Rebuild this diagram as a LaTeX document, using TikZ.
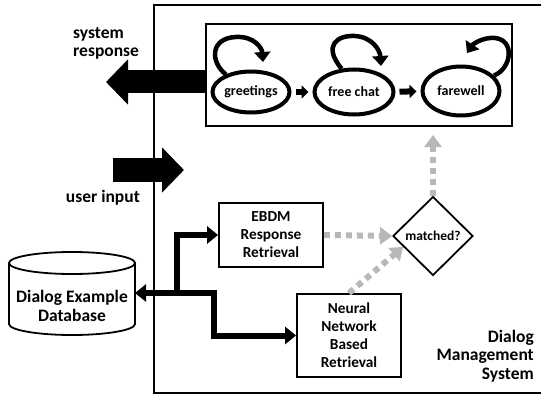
\documentclass[tikz,border=0pt]{standalone}
\usepackage{fontspec}
\setmainfont{Carlito}
\usetikzlibrary{arrows.meta,shapes.geometric}

\tikzset{
  stateell/.style={ellipse, draw, line width=4pt, inner sep=0pt, minimum width=77pt, minimum height=41pt, font=\fontsize{14}{16}\selectfont\bfseries},
  loopline/.style={line width=4.5pt, -{Triangle[width=16pt,length=10pt]}},
  nextarr/.style={line width=6pt, -{Triangle[width=13pt,length=7pt]}, shorten <=4pt, shorten >=4pt},
  bigarr/.style={line width=23pt, -{Triangle[width=44pt,length=22pt]}},
  boxnode/.style={draw, line width=1.8pt, align=center, inner sep=0pt, font=\fontsize{15.3}{18}\selectfont\bfseries},
  flow/.style={line width=6pt, -{Triangle[width=17pt,length=11pt]}},
  grayflow/.style={draw=black!28, line width=6pt, dash pattern=on 6pt off 5pt, -{Triangle[width=17pt,length=12pt]}},
  biglabel/.style={font=\fontsize{17.5}{18.5}\selectfont\bfseries, inner sep=0pt},
}

\begin{document}
\begin{tikzpicture}[x=1pt,y=-1pt]
%%%%% START %%%%%
\useasboundingbox (0,0) rectangle (541,396);

% dialog management system
\draw[line width=1.5pt] (154,5) rectangle (548,393);
\node[biglabel, align=right, anchor=north east] (dms) at (534,330) {Dialog\\Management\\System};

% states
\node[draw, line width=2pt, minimum width=306pt, minimum height=102pt, inner sep=0pt] (states) at (359,75) {};
\node[stateell] (greet) at (251,92) {greetings};
\node[stateell, minimum width=79pt, minimum height=45pt] (chat) at (354,92) {free chat};
\node[stateell, minimum width=77pt, minimum height=49pt] (bye) at (461,91) {farewell};
\draw[nextarr] (greet) -- (chat);
\draw[nextarr] (chat) -- (bye);

\coordinate (greetloop) at (263,62);
\coordinate (chatloop) at (381,66);
\coordinate (byeloop) at (467,53);
\draw[loopline] (greet.145) .. controls (210,62) and (210,38) .. (236,37) .. controls (254,36) and (262,48) .. (greetloop);
\draw[loopline] (chat.118) .. controls (322,45) and (338,35) .. (355,36) .. controls (372,37) and (380,50) .. (chatloop);
\draw[loopline] (bye.25) .. controls (512,68) and (515,40) .. (495,38) .. controls (483,37) and (473,44) .. (byeloop);

% in and out
\coordinate (resptip) at (106,82);
\draw[bigarr] (resptip -| states.west) -- (resptip);
\node[biglabel, align=left, anchor=north west] (resp) at (73,27) {system\\response};

\coordinate (inA) at (113,170);
\coordinate (inB) at (184,170);
\draw[bigarr, line width=24pt] (inA) -- (inB);
\node[biglabel, anchor=base east] (inlbl) at (140,202) {user input};

% database
\draw[line width=1.8pt] (9,263) -- (9,324) arc[start angle=180, end angle=0, x radius=63, y radius=11] -- (135,263);
\draw[line width=1.8pt] (72,263) ellipse [x radius=63, y radius=11];
\node[biglabel, align=center] (db) at (72,306) {Dialog Example\\Database};
\coordinate (dbport) at (135,293);

% retrieval
\node[boxnode, minimum width=104pt, minimum height=64pt] (ebdm) at (271,235) {EBDM\\Response\\Retrieval};
\node[boxnode, minimum width=104pt, minimum height=83pt] (neural) at (349,335.5) {Neural\\Network\\Based\\Retrieval};
\node[diamond, draw, line width=1.8pt, minimum width=80pt, minimum height=79pt, inner sep=0pt, font=\fontsize{13.5}{15}\selectfont\bfseries] (match) at (433,236) {matched?};

\coordinate (jn) at (177,293);
\coordinate (nbend) at (214,293);
\draw[flow] (jn) -- (dbport);
\draw[flow] (jn) |- (ebdm.west);
\draw[flow] (jn) -- (nbend) |- (neural.west);

\draw[grayflow] (ebdm.east) -- (match.west);
\draw[grayflow] (neural.north) -- (match.200);
\draw[grayflow, shorten >=8pt] (match.north) -- (match.north |- states.south);
%%%%% END %%%%%
\end{tikzpicture}
\end{document}
